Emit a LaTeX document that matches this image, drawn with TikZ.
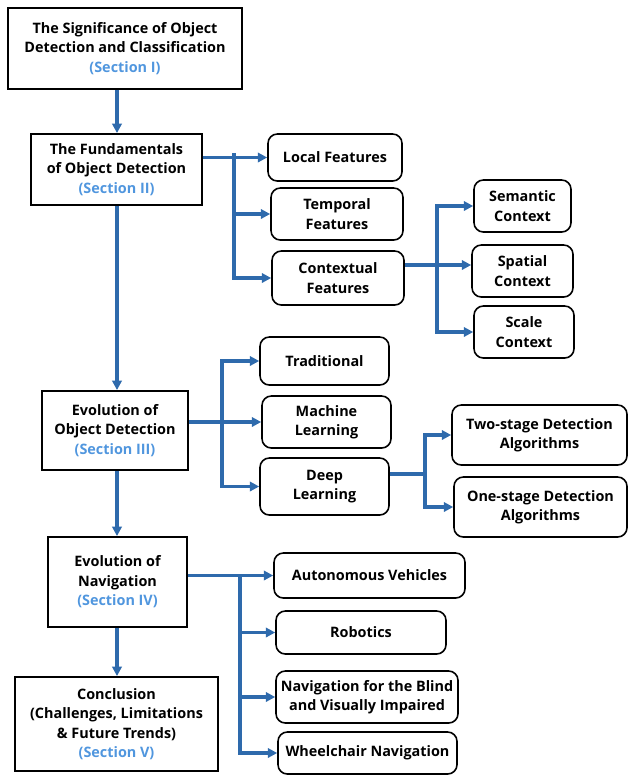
\documentclass[tikz,border=0pt]{standalone}
\usepackage{fontspec}
\setmainfont{Open Sans}
\usetikzlibrary{arrows.meta}
\definecolor{linkblue}{RGB}{46,106,172}
\definecolor{secblue}{RGB}{80,150,222}
\newcommand{\sectag}[1]{\textcolor{secblue}{#1}}
\begin{document}
\begin{tikzpicture}[x=0.75pt,y=-0.75pt,
    every node/.style={font=\bfseries\fontsize{10.8}{14.6}\selectfont, align=center, inner sep=0pt},
    mainbox/.style 2 args={draw, line width=1.4pt, minimum width=#1*0.75pt, minimum height=#2*0.75pt},
    subbox/.style 2 args={draw, line width=1.2pt, rounded corners=7pt, minimum width=#1*0.75pt, minimum height=#2*0.75pt},
    link/.style={linkblue, line width=2.3pt},
    arr/.style={link, -{Triangle[length=7pt,width=7pt]}}]
  \useasboundingbox (0,0) rectangle (628,775);
  % main column
  \node[mainbox={234}{81}] (signif) at (125,48.5) {The Significance of Object\\Detection and Classification\\\sectag{(Section I)}};
  \node[mainbox={171}{71}] (fund) at (116.5,169.5) {The Fundamentals\\of Object Detection\\\sectag{(Section II)}};
  \node[mainbox={146}{79}] (evod) at (115,430.5) {Evolution of\\Object Detection\\\sectag{(Section III)}};
  \node[mainbox={139}{90}] (evnav) at (117.5,582) {Evolution of\\Navigation\\\sectag{(Section IV)}};
  \node[mainbox={203}{94}] (concl) at (116.5,724) {Conclusion\\(Challenges, Limitations\\\& Future Trends)\\\sectag{(Section V)}};
  % features
  \node[subbox={134}{47}] (local) at (335,157.5) {Local Features};
  \node[subbox={132}{52}] (temporal) at (337,214) {Temporal\\Features};
  \node[subbox={132}{54}] (context) at (338,278) {Contextual\\Features};
  \node[subbox={97}{52}] (semantic) at (522.5,206) {Semantic\\Context};
  \node[subbox={101}{52}] (spatial) at (522.5,271) {Spatial\\Context};
  \node[subbox={100}{52}] (scale) at (524,332) {Scale\\Context};
  % detection methods
  \node[subbox={129}{48}] (trad) at (324.5,361) {Traditional};
  \node[subbox={129}{52}] (ml) at (326.5,422) {Machine\\Learning};
  \node[subbox={129}{57}] (deep) at (324.5,486.5) {Deep\\Learning};
  \node[subbox={175}{60}] (twostage) at (539.5,435) {Two-stage Detection\\Algorithms};
  \node[subbox={173}{60}] (onestage) at (540.5,507) {One-stage Detection\\Algorithms};
  % navigation
  \node[subbox={191}{45}] (auto) at (369.5,575.5) {Autonomous Vehicles};
  \node[subbox={170}{43}] (robot) at (361,632.5) {Robotics};
  \node[subbox={182}{52}] (blind) at (367,697) {Navigation for the Blind\\and Visually Impaired};
  \node[subbox={179}{42}] (wheel) at (367.5,753) {Wheelchair Navigation};
  % branch points
  \coordinate (trunk) at (117,0);
  \coordinate (b1) at (234,153);
  \coordinate (b2) at (437,265);
  \coordinate (b3) at (222,423);
  \coordinate (b4) at (425,474);
  \coordinate (b5) at (240,575);
  \begin{scope}[arr]
    \draw (signif.south -| trunk) -- (fund.north -| trunk);
    \draw (fund.south -| trunk) -- (evod.north -| trunk);
    \draw (evod.south -| trunk) -- (evnav.north -| trunk);
    \draw (evnav.south -| trunk) -- (concl.north -| trunk);
    \draw (fund.east |- local.west) -- (local.west);
    \draw (b1) |- (temporal.west);
    \draw (b1) |- (context.west);
    \draw (context.east |- b2) -- (b2) -- (spatial.west |- b2);
    \draw (b2) |- (semantic.west);
    \draw (b2) |- (scale.west);
    \draw (evod.east |- ml.west) -- (ml.west);
    \draw (b3) |- (trad.west);
    \draw (b3) |- (deep.west);
    \draw (b4) |- (twostage.west);
    \draw (b4) |- (onestage.west);
    \draw (evnav.east |- auto.west) -- (auto.west);
    \draw (b5) |- (robot.west);
    \draw (b5) |- (blind.west);
    \draw (b5) |- (wheel.west);
  \end{scope}
  \draw[link] (deep.east |- b4) -- (b4);
\end{tikzpicture}
\end{document}
